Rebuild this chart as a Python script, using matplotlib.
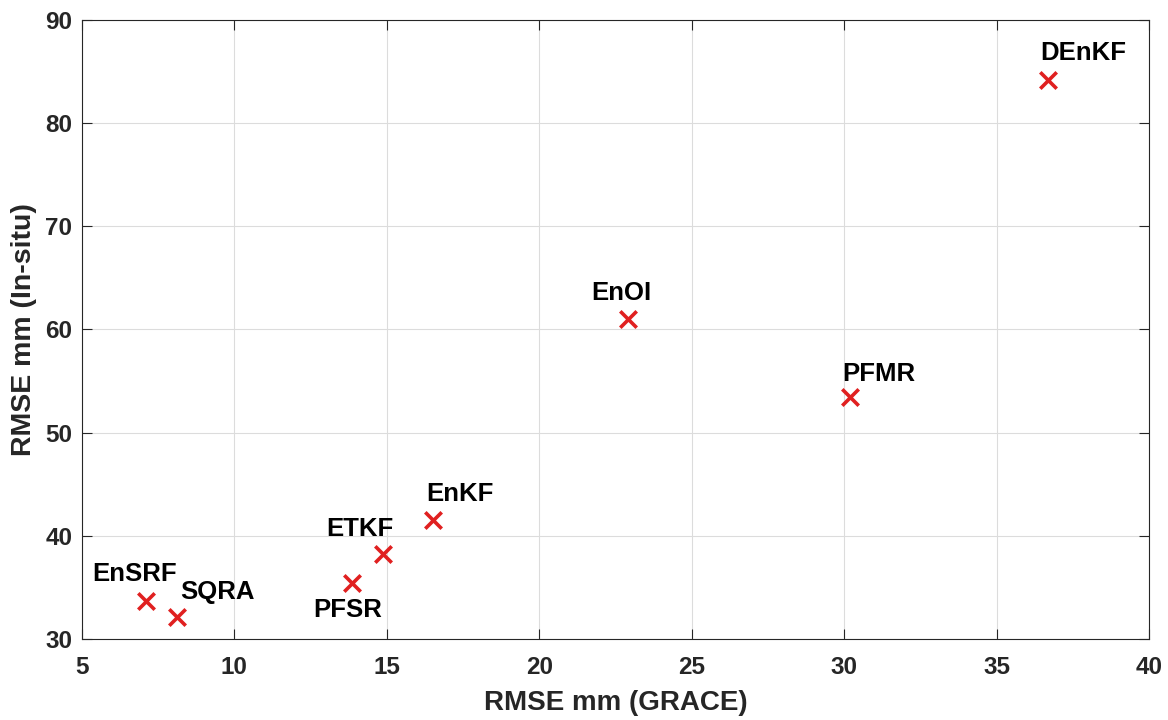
import matplotlib
matplotlib.use("Agg")
import matplotlib.pyplot as plt

methods = ["DEnKF", "EnOI", "PFMR", "EnKF", "ETKF", "PFSR", "EnSRF", "SQRA"]
rmse_grace = [36.7, 22.9, 30.2, 16.5, 14.86, 13.86, 7.1, 8.1]
rmse_insitu = [84.2, 61.0, 53.5, 41.5, 38.2, 35.45, 33.7, 32.1]

# label offsets in pixels (dx, dy, horizontal alignment)
label_offsets = {
    "DEnKF": (-8, 27, "left"),
    "EnOI": (-36, 26, "left"),
    "PFMR": (-8, 23, "left"),
    "EnKF": (-6, 26, "left"),
    "ETKF": (11, 25, "right"),
    "PFSR": (-39, -27, "left"),
    "EnSRF": (-54, 27, "left"),
    "SQRA": (4, 25, "left"),
}

plt.rcParams['font.family'] = ['Liberation Sans', 'DejaVu Sans']
plt.rcParams['font.weight'] = 'bold'

fig = plt.figure(figsize=(11.68, 7.2), dpi=100)
ax = fig.add_axes([82/1168, 1-639/720, (1149-82)/1168, (639-20)/720])

ax.scatter(rmse_grace, rmse_insitu, marker='x', s=140, c='#e02020', linewidths=2.6, zorder=3)

for m, x, y in zip(methods, rmse_grace, rmse_insitu):
    dx, dy, ha = label_offsets[m]
    ax.annotate(m, (x, y), xytext=(dx, dy), textcoords='offset pixels',
                ha=ha, va='center', fontsize=18.5, fontweight='bold', color='black')

ax.set_xlim(5, 40)
ax.set_ylim(30, 90)
ax.set_xticks(range(5, 41, 5))
ax.set_yticks(range(30, 91, 10))
ax.grid(True, color='#dcdcdc', linewidth=0.8)
ax.set_axisbelow(True)
ax.tick_params(direction='in', length=7, width=0.8, top=True, right=True,
               labelsize=17.5, colors='#262626', labelcolor='#262626', pad=7)
ax.tick_params(axis='x', pad=12)
for lab in ax.get_xticklabels() + ax.get_yticklabels():
    lab.set_fontweight('bold')
for s in ax.spines.values():
    s.set_color('#262626')
    s.set_linewidth(0.8)

ax.set_xlabel('RMSE mm (GRACE)', fontsize=20, fontweight='bold', color='#262626', labelpad=8)
ax.set_ylabel('RMSE mm (In-situ)', fontsize=20.5, fontweight='bold', color='#262626', labelpad=6)

fig.savefig('out.png', dpi=100)
